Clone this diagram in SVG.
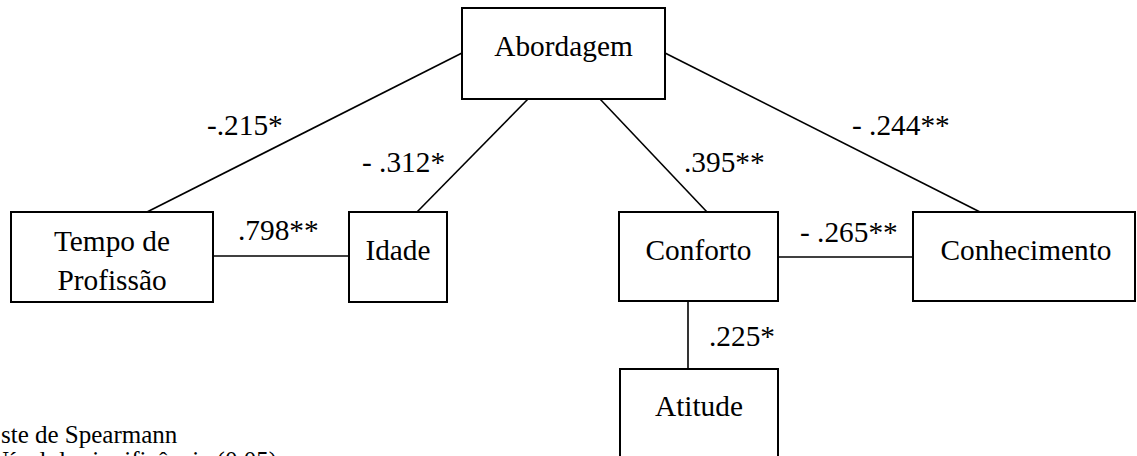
<svg xmlns="http://www.w3.org/2000/svg" width="1137" height="456" viewBox="0 0 1137 456">
<style>
.box{fill:#fff;stroke:#000;stroke-width:2}
.ln{stroke:#000;stroke-width:1.6;fill:none}
.t{font-family:"Liberation Serif","Times New Roman",serif;font-size:29.33px;fill:#000}
.c{text-anchor:middle}
.note{font-family:"Liberation Serif","Times New Roman",serif;font-size:25px;fill:#000}
</style>
<rect width="1137" height="456" fill="#fff"/>
<g id="connectors">
<line class="ln" x1="462" y1="53" x2="147" y2="212"/>
<line class="ln" x1="528" y1="99" x2="417" y2="212"/>
<line class="ln" x1="600" y1="99" x2="707" y2="212"/>
<line class="ln" x1="665" y1="53" x2="980" y2="212"/>
<line class="ln" x1="213" y1="256" x2="349" y2="256"/>
<line class="ln" x1="778" y1="257" x2="913" y2="257"/>
<line class="ln" x1="688" y1="301" x2="688" y2="369"/>
<text class="t" x="207" y="135">-.215*</text>
<text class="t" x="362" y="172">- .312*</text>
<text class="t" x="684" y="172">.395**</text>
<text class="t" x="852" y="135">- .244**</text>
<text class="t" x="238" y="240">.798**</text>
<text class="t" x="800" y="242">- .265**</text>
<text class="t" x="709" y="346">.225*</text>
</g>
<g id="abordagem">
<rect class="box" x="462" y="8" width="203" height="91"/>
<text class="t c" x="563.5" y="56">Abordagem</text>
</g>
<g id="tempo">
<rect class="box" x="11" y="212" width="202" height="90"/>
<text class="t c" x="112" y="251">Tempo de</text>
<text class="t c" x="112" y="290">Profissão</text>
</g>
<g id="idade">
<rect class="box" x="349" y="212" width="98" height="90"/>
<text class="t c" x="398" y="260">Idade</text>
</g>
<g id="conforto">
<rect class="box" x="619" y="212" width="159" height="89"/>
<text class="t c" x="698.5" y="260">Conforto</text>
</g>
<g id="conhecimento">
<rect class="box" x="913" y="212" width="222" height="89"/>
<text class="t c" x="1026" y="260">Conhecimento</text>
</g>
<g id="atitude">
<rect class="box" x="620" y="369" width="158" height="100"/>
<text class="t c" x="699" y="416">Atitude</text>
</g>
<g id="notes">
<text class="note" x="1" y="443">ste de Spearmann</text>
<text class="note" x="277" y="469" text-anchor="end">* Nível de significância (0,05)</text>
</g>
</svg>
